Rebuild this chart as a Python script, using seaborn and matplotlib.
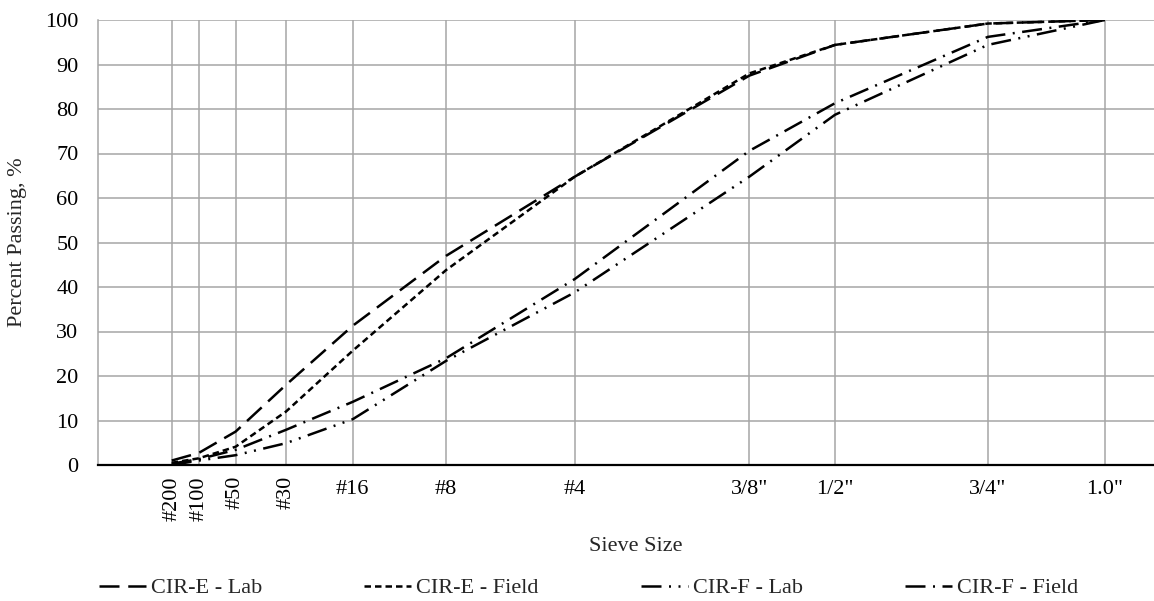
import numpy as np
import pandas as pd
import matplotlib
matplotlib.use("Agg")
import matplotlib.pyplot as plt
import seaborn as sns

# Sieve openings (mm) and their labels
sieve_mm = [0.075, 0.15, 0.3, 0.6, 1.18, 2.36, 4.75, 9.5, 12.5, 19.0, 25.0]
sieve_labels = ["#200", "#100", "#50", "#30", "#16", "#8", "#4", '3/8"', '1/2"', '3/4"', '1.0"']

# Percent passing for each gradation
cir_e_lab = [1.0, 2.7, 7.5, 18.0, 31.3, 47.0, 64.8, 87.5, 94.4, 99.2, 100.0]
cir_e_field = [0.5, 1.5, 4.1, 12.0, 25.7, 43.8, 64.8, 88.0, 94.4, 99.2, 100.0]
cir_f_lab = [0.0, 1.0, 2.2, 4.9, 10.3, 23.4, 38.8, 64.8, 78.7, 94.4, 100.0]
cir_f_field = [0.3, 1.3, 3.4, 7.9, 14.2, 24.0, 41.8, 70.6, 81.3, 96.2, 100.0]

series_names = ["CIR-E - Lab", "CIR-E - Field", "CIR-F - Lab", "CIR-F - Field"]
series_values = [cir_e_lab, cir_e_field, cir_f_lab, cir_f_field]

df = pd.concat(
    [pd.DataFrame({"sieve": sieve_mm, "passing": v, "mix": n})
     for n, v in zip(series_names, series_values)],
    ignore_index=True,
)

sns.set_style("white")
plt.rcParams["font.family"] = ["Liberation Serif", "DejaVu Serif"]
FS = 16

fig = plt.figure(figsize=(11.54, 6.01), dpi=100)
ax = fig.add_axes([98 / 1154, 1 - 465 / 601, 1 - 98 / 1154, (465 - 20) / 601])

# 0.45 power gradation scale
power = 0.45
ax.set_xscale("function",
              functions=(lambda x: np.sign(x) * np.abs(x) ** power,
                         lambda y: np.sign(y) * np.abs(y) ** (1 / power)))

dash_styles = {
    "CIR-E - Lab": (0, (8, 3.5)),
    "CIR-E - Field": (0, (2.6, 1.6)),
    "CIR-F - Lab": (0, (8, 3, 0.8, 3, 0.8, 3)),
    "CIR-F - Field": (0, (8, 3, 0.8, 3)),
}

lines = []
for name in series_names:
    sub = df[df["mix"] == name]
    sns.lineplot(data=sub, x="sieve", y="passing", ax=ax, color="black",
                 linewidth=1.8, sort=False, legend=False, estimator=None)
    ln = ax.get_lines()[-1]
    ln.set_linestyle(dash_styles[name])
    ln.set_label(name)
    lines.append(ln)

ax.set_xlim(0, 27.8)
ax.set_ylim(0, 100)
ax.set_yticks(np.arange(0, 101, 10))
ax.set_xticks(sieve_mm)
ax.set_xticklabels(sieve_labels)

ax.grid(True, color="#a6a6a6", linewidth=1.1)
ax.set_axisbelow(True)

for side in ["top", "right"]:
    ax.spines[side].set_visible(False)
ax.spines["left"].set_color("#a6a6a6")
ax.spines["left"].set_linewidth(1.1)
ax.spines["bottom"].set_color("black")
ax.spines["bottom"].set_linewidth(1.6)
ax.spines["bottom"].set_zorder(5)

ax.tick_params(axis="both", length=0, labelsize=FS, colors="black")
ax.tick_params(axis="y", pad=14)
for i, (tick, lab) in enumerate(zip(ax.xaxis.get_major_ticks(), ax.get_xticklabels())):
    if i < 4:
        lab.set_rotation(90)
        tick.set_pad(8)
    else:
        tick.set_pad(11)

ax.set_xlabel("Sieve Size", fontsize=FS)
ax.xaxis.set_label_coords((636 - 98) / (1154 - 98), -(537 - 465) / 445, transform=ax.transAxes)
ax.set_ylabel("Percent Passing, %", fontsize=FS, va="center")
ax.yaxis.set_label_coords(-(98 - 18) / (1154 - 98), 0.5, transform=ax.transAxes)

# Legend entries laid out across the bottom
legend_x = [99, 364, 641, 905]
for ln, xpx in zip(lines, legend_x):
    fig.legend(handles=[ln], labels=[ln.get_label()], loc="center left",
               bbox_to_anchor=(xpx / 1154, 1 - 588 / 601), frameon=False,
               fontsize=FS, handlelength=2.1, handletextpad=0.25,
               borderaxespad=0, borderpad=0)

fig.savefig("out.png", dpi=100)
